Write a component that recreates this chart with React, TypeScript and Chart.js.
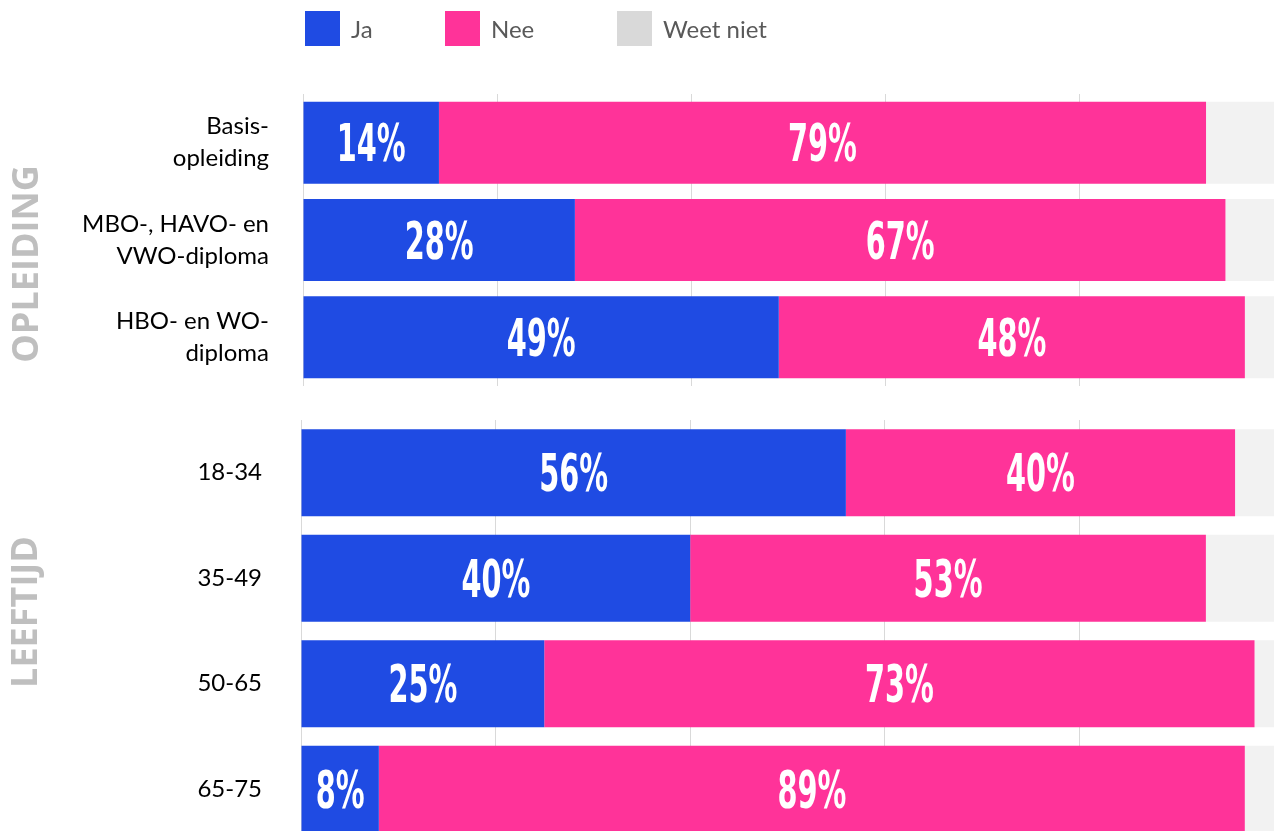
import React, { useEffect, useRef } from "react";
import { Chart, registerables } from "chart.js";

Chart.register(...registerables);

// ---------- data ----------
const SERIES = ["Ja", "Nee", "Weet niet"];
const SERIES_COLORS = ["#1f4be3", "#ff3399", "#f2f2f2"];
const LEGEND_COLORS = ["#1f4be3", "#ff3399", "#d9d9d9"];

const EDU_TITLE = "OPLEIDING";
const EDU_CATEGORIES = [
  ["Basis-", "opleiding"],
  ["MBO-, HAVO- en", "VWO-diploma"],
  ["HBO- en WO-", "diploma"],
];
const EDU_JA = [14, 28, 49];
const EDU_NEE = [79, 67, 48];
const EDU_WEET = [7, 5, 3];

const AGE_TITLE = "LEEFTIJD";
const AGE_CATEGORIES = ["18-34", "35-49", "50-65", "65-75"];
const AGE_JA = [56, 40, 25, 8];
const AGE_NEE = [40, 53, 73, 89];
const AGE_WEET = [4, 7, 2, 3];

const X_MIN = 0;
const X_MAX = 100;
const X_STEP = 20;

// ---------- styling ----------
const LABEL_FONT = "'Liberation Sans Narrow', 'DejaVu Sans Condensed', 'Roboto Condensed', sans-serif";
const TEXT_FONT = "Lato, 'Open Sans', sans-serif";

const labelsPlugin = {
  id: "segLabels",
  afterDatasetsDraw(chart: any) {
    const ctx = chart.ctx;
    const size = 41;
    const sx = 0.78;
    const sy = 1.25;
    ctx.save();
    ctx.fillStyle = "#ffffff";
    ctx.font = `bold ${size}px ${LABEL_FONT}`;
    ctx.textAlign = "center";
    ctx.textBaseline = "alphabetic";
    [0, 1].forEach((di) => {
      const meta = chart.getDatasetMeta(di);
      const data = chart.data.datasets[di].data;
      meta.data.forEach((el: any, i: number) => {
        const cx = (el.x + el.base) / 2;
        const cy = el.y;
        ctx.save();
        ctx.translate(cx, cy);
        ctx.scale(sx, sy);
        ctx.fillText(`${data[i]}%`, 0, (size * 0.73) / 2);
        ctx.restore();
      });
    });
    ctx.restore();
  },
};

const groupTitlePlugin = {
  id: "groupTitle",
  afterDraw(chart: any, _args: any, opts: any) {
    if (!opts || !opts.text) return;
    const ctx = chart.ctx;
    ctx.save();
    ctx.translate(opts.x, opts.y);
    ctx.rotate(-Math.PI / 2);
    ctx.fillStyle = "#bfbfbf";
    ctx.font = `bold 36px 'Open Sans', sans-serif`;
    ctx.textAlign = "center";
    ctx.textBaseline = "middle";
    ctx.fillText(opts.text, 0, 0);
    ctx.restore();
  },
};

type PanelProps = {
  categories: (string | string[])[];
  ja: number[];
  nee: number[];
  weet: number[];
  title: string;
  top: number;
  height: number;
  padTop: number;
  padBottom: number;
  axisWidth: number;
  tickPad: number;
  barPct: number;
  titleX: number;
  titleY: number;
};

function Panel(p: PanelProps) {
  const ref = useRef<HTMLCanvasElement | null>(null);
  useEffect(() => {
    if (!ref.current) return;
    const values = [p.ja, p.nee, p.weet];
    const chart = new Chart(ref.current, {
      type: "bar",
      data: {
        labels: p.categories as any,
        datasets: SERIES.map((name, i) => ({
          label: name,
          data: values[i],
          backgroundColor: SERIES_COLORS[i],
          borderWidth: 0,
          categoryPercentage: 1,
          barPercentage: p.barPct,
        })),
      },
      options: {
        indexAxis: "y",
        responsive: false,
        animation: false,
        layout: { padding: { top: p.padTop, bottom: p.padBottom, left: 0, right: 0 } },
        plugins: {
          legend: { display: false },
          tooltip: { enabled: false },
          groupTitle: { text: p.title, x: p.titleX, y: p.titleY },
        } as any,
        scales: {
          x: {
            stacked: true,
            min: X_MIN,
            max: X_MAX,
            ticks: { display: false, stepSize: X_STEP },
            grid: { color: "#d9d9d9", lineWidth: 1, drawTicks: false },
            border: { display: false },
            afterFit(scale: any) {
              scale.height = 0;
              scale.paddingLeft = 0;
              scale.paddingRight = 0;
            },
          },
          y: {
            stacked: true,
            grid: { display: false, drawTicks: false },
            border: { display: false },
            ticks: {
              autoSkip: false,
              color: "#000000",
              padding: p.tickPad,
              font: { family: TEXT_FONT, size: 24, lineHeight: 1.33 },
            },
            afterFit(scale: any) {
              scale.width = p.axisWidth;
              scale.paddingTop = 0;
              scale.paddingBottom = 0;
            },
          },
        },
      },
      plugins: [labelsPlugin, groupTitlePlugin],
    });
    return () => chart.destroy();
  }, []);
  return (
    <canvas
      ref={ref}
      width={1274}
      height={p.height}
      style={{ position: "absolute", left: 0, top: p.top, width: 1274, height: p.height }}
    />
  );
}

const LEGEND_LEFT = [305, 445, 617];

export default function App() {
  return (
    <div
      style={{
        position: "fixed",
        left: 0,
        top: 0,
        width: 1274,
        height: 831,
        overflow: "hidden",
        background: "#ffffff",
      }}
    >
      <Panel
        categories={EDU_CATEGORIES}
        ja={EDU_JA}
        nee={EDU_NEE}
        weet={EDU_WEET}
        title={EDU_TITLE}
        top={0}
        height={400}
        padTop={94}
        padBottom={14}
        axisWidth={303}
        tickPad={34}
        barPct={0.842}
        titleX={28}
        titleY={264}
      />
      <Panel
        categories={AGE_CATEGORIES}
        ja={AGE_JA}
        nee={AGE_NEE}
        weet={AGE_WEET}
        title={AGE_TITLE}
        top={400}
        height={460}
        padTop={20}
        padBottom={18}
        axisWidth={301}
        tickPad={39}
        barPct={0.825}
        titleX={27}
        titleY={212}
      />
      {SERIES.map((name, i) => (
        <div
          key={name}
          style={{
            position: "absolute",
            left: LEGEND_LEFT[i],
            top: 11,
            height: 35,
            display: "flex",
            alignItems: "center",
            fontFamily: TEXT_FONT,
            fontSize: 24,
            color: "#595959",
            whiteSpace: "nowrap",
          }}
        >
          <span
            style={{ display: "inline-block", width: 35, height: 35, background: LEGEND_COLORS[i], marginRight: 11 }}
          />
          <span>{name}</span>
        </div>
      ))}
    </div>
  );
}
